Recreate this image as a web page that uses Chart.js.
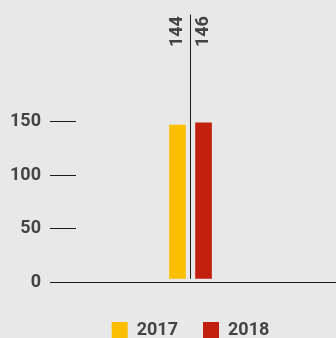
<!DOCTYPE html>
<html>
<head>
<meta charset="utf-8">
<script src="https://cdn.jsdelivr.net/npm/chart.js@4/dist/chart.umd.min.js"></script>
<style>
	html, body { margin: 0; padding: 0; background: #e8e8e8; overflow: hidden; }
	canvas { display: block; }
</style>
</head>
<body>
<canvas id="myChart" width="336" height="349"></canvas>
<script>
const categories = ['']
const years = ['2017', '2018']
const values2017 = [144]
const values2018 = [146]
const tickValues = [0, 50, 100, 150]
const colors = ['#fbbf00', '#c1200e']

const textColor = '#444444'
const lineColor = '#1a1a1a'
const font = { family: 'Roboto', weight: 'bold', size: 18 }

// crisp 1px line position, same rounding Chart.js uses for grid lines
const crisp = (p) => Math.round(p - 0.5) + 0.5

// baseline running to the right edge, divider between the bars, rotated values on top
const markers = {
	id: 'markers',
	afterDatasetsDraw(chart) {
		const { ctx, chartArea, scales } = chart
		const zeroY = crisp(scales.y.getPixelForValue(0))
		const barBase = scales.yBar.getPixelForValue(0)
		const midX = crisp(scales.x.getPixelForValue(0))
		ctx.save()
		ctx.strokeStyle = lineColor
		ctx.lineWidth = 1
		ctx.beginPath()
		ctx.moveTo(chartArea.left, zeroY)
		ctx.lineTo(chart.width, zeroY)
		ctx.moveTo(midX, chartArea.top)
		ctx.lineTo(midX, barBase)
		ctx.stroke()

		ctx.fillStyle = textColor
		ctx.font = 'bold 18px Roboto'
		ctx.textAlign = 'right'
		ctx.textBaseline = 'middle'
		chart.data.datasets.forEach((ds, i) => {
			const bar = chart.getDatasetMeta(i).data[0]
			ctx.save()
			ctx.translate(bar.x, chartArea.top + 1.5)
			ctx.rotate(-Math.PI / 2)
			ctx.fillText(ds.data[0], 0, 0)
			ctx.restore()
		})
		ctx.restore()
	},
}

new Chart(document.getElementById('myChart'), {
	type: 'bar',
	data: {
		labels: categories,
		datasets: [
			{ label: years[0], data: values2017, backgroundColor: colors[0], yAxisID: 'yBar' },
			{ label: years[1], data: values2018, backgroundColor: colors[1], yAxisID: 'yBar' },
		],
	},
	options: {
		responsive: false,
		animation: false,
		categoryPercentage: 0.2275,
		barPercentage: 0.64,
		layout: { padding: { top: 14.6, right: 31, left: 0, bottom: 0 } },
		scales: {
			x: {
				ticks: { display: false },
				grid: { display: false },
				border: { display: false },
				afterFit: (scale) => { scale.height = 14 },
			},
			y: {
				min: 0,
				max: 250,
				afterBuildTicks: (scale) => {
					scale.ticks = tickValues.map((v) => ({ value: v }))
				},
				afterFit: (scale) => {
					scale.width = 76
					scale.paddingTop = 0
					scale.paddingBottom = 0
				},
				ticks: { color: textColor, font: font, padding: 9 },
				grid: { drawOnChartArea: false, tickLength: 26, color: lineColor },
				border: { display: false },
			},
			// bars sit a few pixels above the drawn zero line
			yBar: {
				display: false,
				min: -3.1,
				max: 246.9,
			},
		},
		plugins: {
			legend: {
				position: 'bottom',
				fullSize: false,
				labels: {
					boxWidth: 16,
					boxHeight: 16,
					padding: 25,
					color: textColor,
					font: font,
				},
			},
			tooltip: { enabled: false },
		},
	},
	plugins: [markers],
})
</script>
</body>
</html>
